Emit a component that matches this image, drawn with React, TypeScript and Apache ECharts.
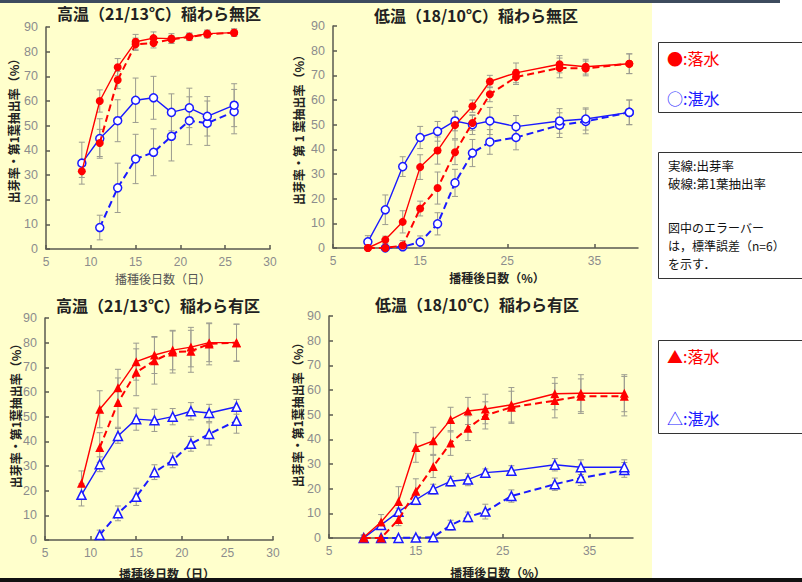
import React, { useEffect, useRef } from "react";
import * as echarts from "echarts";

// x values (days after sowing)
const daysHigh = [9, 11, 13, 15, 17, 19, 21, 23, 26];
const daysLow = [9, 11, 13, 15, 17, 19, 21, 23, 26, 31, 34, 39];

// Panel 1: 高温 稲わら無区
const hiNoDrainEm = [31.5, 60, 73.7, 84, 85.5, 85.3, 86, 87.3, 87.7];
const hiNoDrainEmSE = [2.5, 4.5, 3.5, 3, 2.5, 2, 1.5, 1.5, 1.5];
const hiNoDrainLf = [null, 43, 68.5, 83, 83.5, 85, 86, 87, 87.7];
const hiNoDrainLfSE = [null, 5.5, 3.5, 2.5, 2, 1.5, 1.5, 1.5, 1.5];
const hiNoFloodEm = [34.8, 44.8, 52, 60.3, 61.3, 55.4, 57.2, 53.8, 58.3];
const hiNoFloodEmSE = [8.5, 8, 8.5, 9, 8.7, 7.5, 8, 8, 8.7];
const hiNoFloodLf = [null, 8.7, 24.8, 36.5, 39.2, 45.7, 52, 51, 55.7];
const hiNoFloodLfSE = [null, 5, 10, 10, 9.5, 10, 9.7, 9, 9];

// Panel 2: 低温 稲わら無区
const loNoDrainEm = [0, 3.3, 10.6, 32.8, 39.5, 49.8, 57.5, 67.5, 71, 74.5, 73.5, 74.7];
const loNoDrainEmSE = [0.5, 1.5, 4.5, 5, 5.5, 5.5, 2.5, 2.5, 4, 3.5, 3, 4];
const loNoDrainLf = [0, 0, 1, 16, 24.3, 38.8, 50.7, 62.3, 69.3, 73, 72.8, 74.7];
const loNoDrainLfSE = [0, 0, 2, 3, 6.5, 5, 3, 3, 3, 4, 3, 4];
const loNoFloodEm = [2.5, 15.5, 33, 44.8, 47.3, 51.5, 50, 51.5, 49.2, 51.5, 52.3, 55];
const loNoFloodEmSE = [2.5, 6, 4, 4.5, 4, 4, 4, 5.5, 4.5, 5, 4.5, 5];
const loNoFloodLf = [null, 0, 0.5, 2.4, 9.8, 26.4, 38.5, 43, 44.8, 49.8, 51.3, 55];
const loNoFloodLfSE = [null, 0, 1, 2.5, 4.5, 5.5, 5.5, 5, 5, 5, 5, 5];

// Panel 3: 高温 稲わら有区
const hiStDrainEm = [23, 53, 61.7, 72.3, 75, 77, 78.2, 80, 80];
const hiStDrainEmSE = [5, 7.5, 7.5, 7.5, 7.5, 8, 8, 7.7, 7.5];
const hiStDrainLf = [null, 37.5, 55.7, 68, 72.7, 76.2, 76.5, 79.5, 80];
const hiStDrainLfSE = [null, 6, 10, 9.5, 9.5, 8.5, 8.5, 8.5, 7.5];
const hiStFloodEm = [18.3, 30.7, 42.2, 49, 48.5, 50, 52.2, 51.5, 54];
const hiStFloodEmSE = [4.5, 3, 3, 4.5, 4.5, 3.3, 3.5, 3.5, 3];
const hiStFloodLf = [null, 2, 10.8, 17.5, 27.5, 32.3, 39, 43, 48.3];
const hiStFloodLfSE = [null, 2, 3, 3.5, 3, 3, 3, 4.5, 5];

// Panel 4: 低温 稲わら有区
const loStDrainEm = [0.3, 6.5, 14.8, 36.7, 39.4, 48, 51.5, 52.3, 54, 58.5, 58.7, 58.7];
const loStDrainEmSE = [1, 3, 6, 6, 5.5, 5, 5.5, 6, 7, 6.5, 7.5, 7.5];
const loStDrainLf = [0, 0, 7.5, 19, 29, 38.5, 44.5, 49.7, 53, 55.7, 57.5, 57.5];
const loStDrainLfSE = [0, 0, 2.5, 5, 4.5, 5, 5, 5.5, 6.5, 7, 7, 8];
const loStFloodEm = [0, 5.3, 10.6, 15.5, 19.8, 23, 23.7, 26.5, 27.3, 29.7, 28.7, 28.7];
const loStFloodEmSE = [1, 1, 1.5, 2, 2, 2, 2.5, 1.5, 2, 2.5, 3, 3];
const loStFloodLf = [null, 0, 0, 0.2, 0.3, 5.2, 8.5, 10.7, 17, 21.8, 24.3, 27.6];
const loStFloodLfSE = [null, 0, 0, 0.5, 0.5, 2, 2, 3, 2.5, 2.5, 3, 3];

const titles = [
  "高温（21/13℃）稲わら無区",
  "低温（18/10℃）稲わら無区",
  "高温（21/13℃）稲わら有区",
  "低温（18/10℃）稲わら有区",
];
const yNames = [
  "出芽率・第1葉抽出率（%）",
  "出芽率・第 1 葉抽出率（%）",
  "出芽率・第1葉抽出率（%）",
  "出芽率・第1葉抽出率（%）",
];
const xNames = ["播種後日数（日）", "播種後日数（%）", "播種後日数（日）", "播種後日数（%）"];

const RED = "#ff0000";
const BLUE = "#1a1aff";
const CJK = '"Noto Sans CJK JP", "Noto Sans", sans-serif';
const NUM = '"Liberation Sans", Arial, sans-serif';

type LineDef = {
  x: number[];
  v: (number | null)[];
  e: (number | null)[];
  color: string;
  dashed: boolean;
  symbol: string;
  filled: boolean;
};

function buildSeries(g: number, lines: LineDef[]) {
  const out: any[] = [];
  lines.forEach((l) => {
    const eb = l.x
      .map((xx, i) => [xx, l.v[i], l.e[i]])
      .filter((d) => d[1] != null && d[2] != null && (d[2] as number) > 0);
    out.push({
      type: "custom",
      xAxisIndex: g,
      yAxisIndex: g,
      silent: true,
      z: 1,
      encode: { x: 0, y: 1 },
      data: eb,
      renderItem: (_p: any, api: any) => {
        const x = api.value(0);
        const y = api.value(1);
        const e = api.value(2);
        const top = api.coord([x, Math.min(90, y + e)]);
        const bot = api.coord([x, Math.max(0, y - e)]);
        const w = 3;
        const st = { stroke: "#9c9c90", lineWidth: 1 };
        return {
          type: "group",
          children: [
            { type: "line", shape: { x1: top[0], y1: top[1], x2: bot[0], y2: bot[1] }, style: st },
            { type: "line", shape: { x1: top[0] - w, y1: top[1], x2: top[0] + w, y2: top[1] }, style: st },
            { type: "line", shape: { x1: bot[0] - w, y1: bot[1], x2: bot[0] + w, y2: bot[1] }, style: st },
          ],
        };
      },
    });
  });
  lines.forEach((l, idx) => {
    const data = l.x.map((xx, i) => [xx, l.v[i]]).filter((d) => d[1] != null);
    const isTri = l.symbol === "triangle";
    out.push({
      type: "line",
      xAxisIndex: g,
      yAxisIndex: g,
      data,
      symbol: l.symbol,
      symbolSize: isTri ? 9 : 8,
      showAllSymbol: true,
      z: 3 + idx,
      itemStyle: l.filled
        ? { color: l.color }
        : { color: "#ffffff", borderColor: l.color, borderWidth: 1.5 },
      lineStyle: {
        color: l.color,
        width: l.dashed ? 2 : 1.4,
        type: l.dashed ? [7, 4] : "solid",
      },
    });
  });
  return out;
}

function panelLines(
  x: number[],
  dEm: any[], dEmSE: any[], dLf: any[], dLfSE: any[],
  fEm: any[], fEmSE: any[], fLf: any[], fLfSE: any[],
  tri: boolean
): LineDef[] {
  const s = tri ? "triangle" : "circle";
  return [
    { x, v: fLf, e: fLfSE, color: BLUE, dashed: true, symbol: s, filled: false },
    { x, v: fEm, e: fEmSE, color: BLUE, dashed: false, symbol: s, filled: false },
    { x, v: dLf, e: dLfSE, color: RED, dashed: true, symbol: s, filled: true },
    { x, v: dEm, e: dEmSE, color: RED, dashed: false, symbol: s, filled: true },
  ];
}

const grids = [
  { left: 46, top: 27, width: 224, height: 222 },
  { left: 333, top: 26, width: 305, height: 222 },
  { left: 45, top: 318, width: 228, height: 222 },
  { left: 329, top: 316, width: 304, height: 222 },
];

export default function App() {
  const ref = useRef<HTMLDivElement>(null);
  useEffect(() => {
    if (!ref.current) return;
    const chart = echarts.init(ref.current, undefined, { renderer: "svg" });

    const axisLine = { show: true, lineStyle: { color: "#5a5a50", width: 1.5 } };
    const axisTick = { show: true, inside: true, length: 4, lineStyle: { color: "#5a5a50", width: 1.5 } };
    const axisLabel = { color: "#8c8c8c", fontSize: 12, fontFamily: NUM, margin: 7 };

    const xAxis = grids.map((_, i) => {
      const low = i % 2 === 1;
      return {
        type: "value",
        gridIndex: i,
        min: 5,
        max: low ? 40 : 30,
        interval: low ? 10 : 5,
        axisLine,
        axisTick,
        splitLine: { show: false },
        axisLabel: { ...axisLabel, showMaxLabel: !low },
      };
    });
    const yAxis = grids.map((_, i) => ({
      type: "value",
      gridIndex: i,
      min: 0,
      max: 90,
      interval: 10,
      axisLine,
      axisTick,
      splitLine: { show: false },
      axisLabel: { ...axisLabel, fontSize: 12.5, margin: 8 },
    }));

    const series = [
      ...buildSeries(0, panelLines(daysHigh, hiNoDrainEm, hiNoDrainEmSE, hiNoDrainLf, hiNoDrainLfSE, hiNoFloodEm, hiNoFloodEmSE, hiNoFloodLf, hiNoFloodLfSE, false)),
      ...buildSeries(1, panelLines(daysLow, loNoDrainEm, loNoDrainEmSE, loNoDrainLf, loNoDrainLfSE, loNoFloodEm, loNoFloodEmSE, loNoFloodLf, loNoFloodLfSE, false)),
      ...buildSeries(2, panelLines(daysHigh, hiStDrainEm, hiStDrainEmSE, hiStDrainLf, hiStDrainLfSE, hiStFloodEm, hiStFloodEmSE, hiStFloodLf, hiStFloodLfSE, true)),
      ...buildSeries(3, panelLines(daysLow, loStDrainEm, loStDrainEmSE, loStDrainLf, loStDrainLfSE, loStFloodEm, loStFloodEmSE, loStFloodLf, loStFloodLfSE, true)),
    ];

    const titlePos = [[159, 13], [476, 15], [158, 305], [477, 304]];
    const yNamePos = [[13, 128], [298, 127], [15, 413], [297, 412]];
    const xNamePos = [[163, 278], [497, 277], [167, 573], [498, 572]];

    const graphic: any[] = [];
    titles.forEach((t, i) => {
      graphic.push({
        type: "text", x: titlePos[i][0], y: titlePos[i][1], silent: true,
        style: { text: t, fill: "#222", font: `bold 16px ${CJK}`, align: "center", verticalAlign: "middle" },
      });
      graphic.push({
        type: "text", x: yNamePos[i][0], y: yNamePos[i][1], rotation: Math.PI / 2, silent: true,
        style: { text: yNames[i], fill: "#222", font: `bold 12px ${CJK}`, align: "center", verticalAlign: "middle" },
      });
      graphic.push({
        type: "text", x: xNamePos[i][0], y: xNamePos[i][1], silent: true,
        style: {
          text: xNames[i], fill: i === 0 ? "#555" : "#222",
          font: `${i === 0 ? "normal" : "bold"} 12px ${CJK}`, align: "center", verticalAlign: "middle",
        },
      });
    });

    const box = (y: number, h: number) => ({
      type: "rect", silent: true,
      shape: { x: 658.5, y: y + 0.5, width: 160, height: h },
      style: { fill: "#ffffff", stroke: "#333", lineWidth: 1 },
    });
    const txt = (s: string, x: number, y: number, color: string, size: number) => ({
      type: "text", x, y, silent: true,
      style: { text: s, fill: color, font: `${size}px ${CJK}`, align: "left", verticalAlign: "middle" },
    });
    graphic.push(box(42, 70));
    graphic.push(txt("●:落水", 667, 58, RED, 16));
    graphic.push(txt("○:湛水", 667, 98, BLUE, 16));
    graphic.push(box(152, 126));
    graphic.push(txt("実線:出芽率", 668, 165, "#111", 12.5));
    graphic.push(txt("破線:第1葉抽出率", 668, 183, "#111", 12.5));
    graphic.push(txt("図中のエラーバー", 668, 227, "#111", 12));
    graphic.push(txt("は，標準誤差（n=6）", 668, 245, "#111", 12));
    graphic.push(txt("を示す．", 668, 263, "#111", 12));
    graphic.push(box(340, 93));
    graphic.push(txt("▲:落水", 667, 356, RED, 16));
    graphic.push(txt("△:湛水", 667, 418, BLUE, 16));

    chart.setOption({
      animation: false,
      backgroundColor: "transparent",
      grid: grids.map((g) => ({ ...g, containLabel: false })),
      xAxis,
      yAxis,
      series,
      graphic,
    });
    return () => chart.dispose();
  }, []);

  return (
    <div style={{ position: "fixed", left: 0, top: 0, width: 802, height: 582, background: "#ffffff", overflow: "hidden" }}>
      <div style={{ position: "absolute", left: 0, top: 0, width: 780, height: 3, background: "#3d4b5e" }} />
      <div style={{ position: "absolute", left: 0, top: 3, width: 652, height: 575, background: "#ffffcc" }} />
      <div style={{ position: "absolute", left: 0, top: 578, width: 802, height: 4, background: "#111" }} />
      <div ref={ref} style={{ position: "absolute", left: 0, top: 0, width: 802, height: 582 }} />
    </div>
  );
}
